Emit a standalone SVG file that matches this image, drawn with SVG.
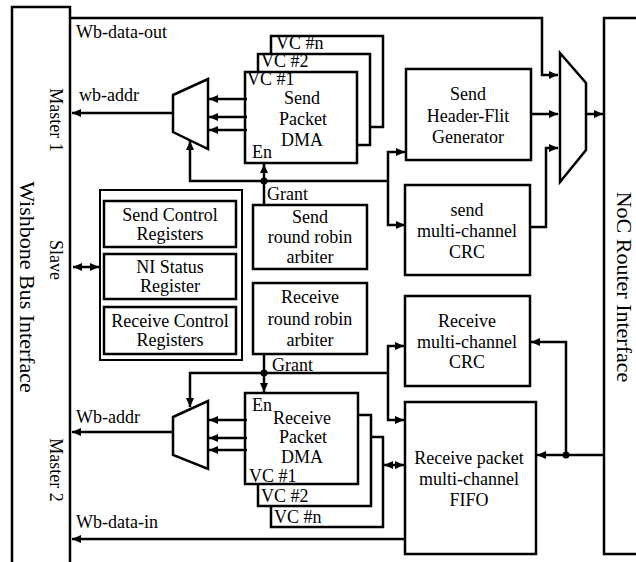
<svg xmlns="http://www.w3.org/2000/svg" width="636" height="562" viewBox="0 0 636 562">
<defs>
<marker id="ah" markerUnits="userSpaceOnUse" markerWidth="10" markerHeight="9" refX="9" refY="4" orient="auto-start-reverse"><path d="M0,0 L9,4 L0,8 z" fill="#000"/></marker>
<style>
.b{fill:#fff;stroke:#000;stroke-width:2.5}
.t{font-family:"Liberation Serif","Times New Roman",serif;font-size:18px;fill:#000}
.c{text-anchor:middle}
.l{fill:none;stroke:#000;stroke-width:2.5}
.a{marker-end:url(#ah)}
.aa{marker-end:url(#ah);marker-start:url(#ah)}
</style>
</defs>
<rect width="636" height="562" fill="#fff"/>

<g id="wishbone">
<rect class="b" x="12" y="7" width="58" height="580"/>
<text class="t" transform="translate(20,287) rotate(90)" text-anchor="middle" style="font-size:22px">Wishbone Bus Interface</text>
<text class="t c" transform="translate(50,120) rotate(90)">Master 1</text>
<text class="t c" transform="translate(50,260) rotate(90)">Slave</text>
<text class="t c" transform="translate(50,470) rotate(90)">Master 2</text>
</g>

<g id="noc">
<rect class="b" x="604" y="18" width="60" height="536"/>
<text class="t c" transform="translate(617,287) rotate(90)" style="font-size:22px">NoC Router Interface</text>
</g>

<g id="send-dma">
<rect class="b" x="271" y="36" width="112" height="91"/>
<rect class="b" x="258" y="54" width="112" height="91"/>
<rect class="b" x="245" y="72" width="112" height="91"/>
<text class="t" x="276" y="49">VC #n</text>
<text class="t" x="261" y="67">VC #2</text>
<text class="t" x="247" y="85">VC #1</text>
<text class="t c" x="302" y="104">Send</text>
<text class="t c" x="303" y="125">Packet</text>
<text class="t c" x="302" y="146">DMA</text>
<text class="t" x="252" y="158">En</text>
</g>

<g id="send-mux"><polygon class="b" points="173,95 208,79 208,149 173,132"/></g>
<g id="out-mux"><polygon class="b" points="560,53 586,83 586,150 560,182"/></g>

<g id="header-gen">
<rect class="b" x="406" y="69" width="125" height="91"/>
<text class="t c" x="468" y="100">Send</text>
<text class="t c" x="468" y="122">Header-Flit</text>
<text class="t c" x="468" y="143">Generator</text>
</g>

<g id="send-crc">
<rect class="b" x="405" y="185" width="125" height="90"/>
<text class="t c" x="467" y="216">send</text>
<text class="t c" x="467" y="237">multi-channel</text>
<text class="t c" x="467" y="258">CRC</text>
</g>

<g id="registers">
<rect fill="#fff" stroke="#000" stroke-width="2" x="100" y="190" width="142" height="170"/>
<rect class="b" x="104" y="201" width="132" height="46" stroke-width="3"/>
<text class="t c" x="170" y="221">Send Control</text>
<text class="t c" x="170" y="240">Registers</text>
<rect class="b" x="104" y="254" width="132" height="45" stroke-width="3"/>
<text class="t c" x="170" y="273">NI Status</text>
<text class="t c" x="170" y="292">Register</text>
<rect class="b" x="104" y="307" width="132" height="47" stroke-width="3"/>
<text class="t c" x="170" y="327">Receive Control</text>
<text class="t c" x="170" y="346">Registers</text>
</g>

<g id="send-arbiter">
<rect class="b" x="253" y="205" width="114" height="64"/>
<text class="t c" x="310" y="223">Send</text>
<text class="t c" x="310" y="243">round robin</text>
<text class="t c" x="310" y="263">arbiter</text>
</g>

<g id="recv-arbiter">
<rect class="b" x="253" y="283" width="114" height="71"/>
<text class="t c" x="310" y="303">Receive</text>
<text class="t c" x="310" y="325">round robin</text>
<text class="t c" x="310" y="346">arbiter</text>
</g>

<g id="recv-crc">
<rect class="b" x="405" y="296" width="125" height="90"/>
<text class="t c" x="467" y="327">Receive</text>
<text class="t c" x="467" y="348">multi-channel</text>
<text class="t c" x="467" y="368">CRC</text>
</g>

<g id="recv-fifo">
<rect class="b" x="405" y="402" width="131" height="152"/>
<text class="t c" x="469" y="464">Receive packet</text>
<text class="t c" x="469" y="485">multi-channel</text>
<text class="t c" x="469" y="506">FIFO</text>
</g>

<g id="recv-dma">
<rect class="b" x="271" y="437" width="112" height="90"/>
<rect class="b" x="258" y="415" width="113" height="91"/>
<rect class="b" x="245" y="393" width="113" height="91"/>
<text class="t" x="252" y="411">En</text>
<text class="t c" x="302" y="424">Receive</text>
<text class="t c" x="303" y="443">Packet</text>
<text class="t c" x="302" y="463">DMA</text>
<text class="t" x="249" y="482">VC #1</text>
<text class="t" x="261" y="502">VC #2</text>
<text class="t" x="274" y="523">VC #n</text>
</g>

<g id="recv-mux"><polygon class="b" points="173,417 208,401 208,469 173,455"/></g>

<g id="connectors">
<path class="l a" d="M70,18 H542 V75 H558"/>
<path class="l a" d="M531,114 H558"/>
<path class="l a" d="M530,227 H546 V148 H558"/>
<path class="l a" d="M586,114 H603"/>
<path class="l a" d="M247,99 H209"/>
<path class="l a" d="M247,117 H209"/>
<path class="l a" d="M247,130 H209"/>
<path class="l a" d="M173,113 H72"/>
<path class="l a" d="M388,181 H190 V141"/>
<path class="l a" d="M264,205 V164"/>
<path class="l a" d="M388,181 V152 H405"/>
<path class="l a" d="M388,181 V225 H405"/>
<circle cx="264" cy="181" r="3.5"/>
<path class="l aa" d="M73,267 H99"/>
<path class="l a" d="M264,354 V392"/>
<path class="l a" d="M388,373 H190 V407"/>
<circle cx="264" cy="373" r="3.5"/>
<path class="l a" d="M388,373 V346 H404"/>
<path class="l a" d="M388,373 V420 H404"/>
<path class="l a" d="M247,420 H209"/>
<path class="l a" d="M247,438 H209"/>
<path class="l a" d="M247,450 H209"/>
<path class="l a" d="M173,432 H72"/>
<path class="l aa" d="M384,465 H404"/>
<path class="l a" d="M405,539 H72"/>
<path class="l a" d="M604,455 H537"/>
<path class="l a" d="M566,455 V342 H531"/>
<circle cx="566" cy="455" r="3.5"/>
<text class="t" x="76" y="38">Wb-data-out</text>
<text class="t" x="79" y="101">wb-addr</text>
<text class="t" x="267" y="200">Grant</text>
<text class="t" x="272" y="371">Grant</text>
<text class="t" x="76" y="423">Wb-addr</text>
<text class="t" x="76" y="528">Wb-data-in</text>
</g>
</svg>
